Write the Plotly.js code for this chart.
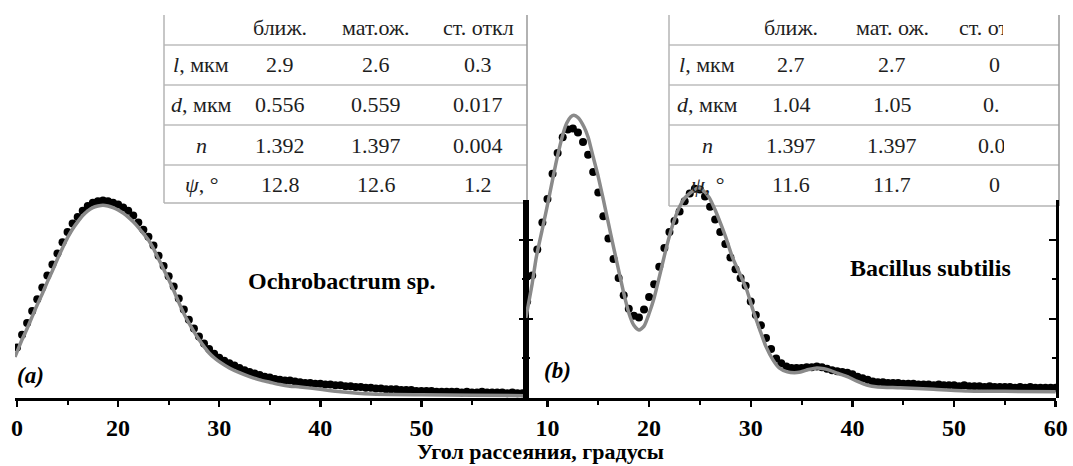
<!DOCTYPE html>
<html><head><meta charset="utf-8">
<script src="https://cdn.plot.ly/plotly-3.0.1.min.js"></script>
<style>html,body{margin:0;padding:0;background:#fff}#chart{width:1073px;height:466px}</style>
</head><body><div id="chart"></div>
<script>
// ---------- Panel (a): Ochrobactrum sp. ----------
const expA_x = [10,10.5,11,11.5,12,12.5,13,13.5,14,14.5,15,15.5,16,16.5,17,17.5,18,18.5,19,19.5,20,20.5,21,21.5,22,22.5,23,23.5,24,24.5,25,25.5,26,26.5,27,27.5,28,28.5,29,29.5,30,30.5,31,31.5,32,32.5,33,33.5,34,34.5,35,35.5,36,36.5,37,37.5,38,38.5,39,39.5,40,40.5,41,41.5,42,42.5,43,43.5,44,44.5,45,45.5,46,46.5,47,47.5,48,48.5,49,49.5,50,50.5,51,51.5,52,52.5,53,53.5,54,54.5,55,55.5,56,56.5,57,57.5,58,58.5,59,59.5,60,60.5];
const expA_y = [0.64,0.80,0.95,1.10,1.25,1.40,1.55,1.69,1.83,1.97,2.10,2.21,2.29,2.37,2.43,2.47,2.49,2.50,2.49,2.47,2.45,2.41,2.37,2.31,2.22,2.13,2.04,1.93,1.80,1.67,1.54,1.41,1.26,1.12,0.99,0.88,0.78,0.69,0.62,0.56,0.51,0.47,0.44,0.41,0.38,0.35,0.33,0.31,0.29,0.27,0.26,0.24,0.23,0.22,0.22,0.21,0.20,0.19,0.19,0.18,0.18,0.17,0.17,0.16,0.16,0.15,0.15,0.14,0.14,0.13,0.13,0.12,0.12,0.11,0.11,0.11,0.10,0.10,0.10,0.09,0.09,0.09,0.09,0.08,0.08,0.08,0.08,0.08,0.07,0.08,0.07,0.07,0.08,0.07,0.07,0.07,0.07,0.06,0.07,0.06,0.06,0.06];
const fitA_x = [9.8,10.5,11,11.5,12,12.5,13,13.5,14,14.5,15,15.5,16,16.5,17,17.5,18,18.5,19,19.5,20,20.5,21,21.5,22,22.5,23,23.5,24,24.5,25,25.5,26,26.5,27,27.5,28,28.5,29,29.5,30,31,32,33,34,35,36,37,38,40,42,45,50,55,60.3];
const fitA_y = [0.52,0.74,0.88,1.03,1.18,1.32,1.47,1.61,1.76,1.90,2.03,2.14,2.23,2.31,2.37,2.41,2.43,2.44,2.43,2.41,2.38,2.34,2.29,2.23,2.16,2.08,2.00,1.89,1.76,1.63,1.50,1.36,1.21,1.07,0.95,0.84,0.74,0.65,0.57,0.51,0.46,0.38,0.32,0.27,0.23,0.20,0.17,0.15,0.14,0.11,0.08,0.05,0.04,0.035,0.03];

// ---------- Panel (b): Bacillus subtilis ----------
const expB_x = [8,8.5,9,9.5,10,10.5,11,11.5,12,12.5,13,13.5,14,14.5,15,15.5,16,16.5,17,17.5,18,18.5,19,19.5,20,20.5,21,21.5,22,22.5,23,23.5,24,24.5,25,25.5,26,26.5,27,27.5,28,28.5,29,29.5,30,30.5,31,31.5,32,32.5,33,33.5,34,34.5,35,35.5,36,36.5,37,37.5,38,38.5,39,39.5,40,40.5,41,41.5,42,42.5,43,43.5,44,44.5,45,45.5,46,46.5,47,47.5,48,48.5,49,49.5,50,50.5,51,51.5,52,52.5,53,53.5,54,54.5,55,55.5,56,56.5,57,57.5,58,58.5,59,59.5,60];
const expB_y = [1.22,1.55,1.88,2.22,2.52,2.84,3.10,3.30,3.40,3.41,3.36,3.24,3.08,2.86,2.60,2.30,2.02,1.76,1.52,1.30,1.13,1.04,1.02,1.12,1.28,1.44,1.66,1.90,2.10,2.24,2.36,2.49,2.59,2.65,2.64,2.55,2.42,2.26,2.10,1.95,1.78,1.63,1.52,1.42,1.22,1.05,0.92,0.76,0.62,0.50,0.44,0.40,0.38,0.38,0.38,0.39,0.39,0.40,0.39,0.37,0.35,0.34,0.33,0.32,0.30,0.27,0.25,0.23,0.21,0.20,0.20,0.19,0.19,0.19,0.18,0.18,0.18,0.17,0.17,0.17,0.16,0.17,0.16,0.16,0.16,0.15,0.16,0.15,0.15,0.15,0.14,0.15,0.14,0.14,0.14,0.14,0.13,0.14,0.13,0.14,0.13,0.13,0.13,0.13,0.13];
const fitB_x = [7.84,8.5,8.9,9.5,9.9,10.5,10.9,11.5,11.9,12.3,12.6,13.0,13.6,14.0,14.5,15.0,15.5,16.0,16.5,17.0,17.5,18.0,18.5,19.0,19.5,20.0,20.5,21.0,21.5,22.0,22.5,23.0,23.5,24.0,24.5,24.9,25.3,25.9,26.5,27.0,27.5,28.2,29.0,29.6,30.2,30.9,31.5,32.2,32.8,33.6,34.3,34.9,35.7,36.5,37.2,37.8,38.6,39.5,40.5,41.5,42.5,44.7,48,51.3,55,60];
const fitB_y = [0.99,1.45,1.78,2.14,2.38,2.76,3.01,3.33,3.48,3.56,3.58,3.55,3.43,3.30,3.05,2.80,2.51,2.21,1.91,1.62,1.33,1.08,0.92,0.86,0.91,1.07,1.27,1.53,1.80,2.05,2.26,2.42,2.53,2.59,2.64,2.66,2.63,2.54,2.38,2.22,2.05,1.78,1.55,1.37,1.12,0.86,0.65,0.48,0.38,0.33,0.32,0.33,0.36,0.38,0.37,0.35,0.31,0.27,0.21,0.16,0.14,0.13,0.11,0.09,0.085,0.08];

// ---------- Axis ticks ----------
const tickValsA = [10,20,30,40,50];
const tickTextA = ["0","20","30","40","50"];
const tickValsB = [10,20,30,40,50,60];
const tickTextB = ["10","20","30","40","50","60"];
const minorTicks = [15,25,35,45,55];

// ---------- Tables ----------
const headA = ["ближ.","мат.ож.","ст. откл"];
const headB = ["ближ.","мат. ож.","ст. откл"];
const rowLabels = ["<i>l</i>, мкм","<i>d</i>, мкм","<i>n</i>","<i>ψ</i>, °"];
const tableA = [["2.9","2.6","0.3"],["0.556","0.559","0.017"],["1.392","1.397","0.004"],["12.8","12.6","1.2"]];
const tableB = [["2.7","2.7","0"],["1.04","1.05","0."],["1.397","1.397","0.0"],["11.6","11.7","0"]];

const labelA = "Ochrobactrum sp.";
const labelB = "Bacillus subtilis";
const xTitle = "Угол рассеяния, градусы";

// pixel -> paper helpers (layout positioning only)
const L = 15, W = 1041, B = 398, H = 398;
const P = px => (px - L) / W;
const Q = py => (B - py) / H;

const serif = '"Liberation Serif", "Times New Roman", "DejaVu Serif", serif';
const dotStyle = {color:'#000', size:8};
const lineStyle = {color:'#8a8a8a', width:3.5, shape:'spline', smoothing:0.6};

const traces = [
  {x:expA_x, y:expA_y, xaxis:'x', yaxis:'y', mode:'markers', marker:dotStyle, hoverinfo:'skip'},
  {x:fitA_x, y:fitA_y, xaxis:'x', yaxis:'y', mode:'lines', line:lineStyle, hoverinfo:'skip'},
  {x:expB_x, y:expB_y, xaxis:'x2', yaxis:'y2', mode:'markers', marker:dotStyle, hoverinfo:'skip'},
  {x:fitB_x, y:fitB_y, xaxis:'x2', yaxis:'y2', mode:'lines', line:lineStyle, hoverinfo:'skip'},
  // empty carriers so the frame axes (right/left borders) get drawn
  {x:[], y:[], xaxis:'x', yaxis:'y3', mode:'markers', hoverinfo:'skip'},
  {x:[], y:[], xaxis:'x2', yaxis:'y4', mode:'markers', hoverinfo:'skip'},
  {x:[], y:[], xaxis:'x2', yaxis:'y5', mode:'markers', hoverinfo:'skip'}
];

const tickFont = {family:serif, size:24, color:'#000', weight:'bold'};
const xCommon = {showline:true, linewidth:3, linecolor:'#000', ticks:'outside', ticklen:6, tickwidth:2.5, tickcolor:'#000',
  tickmode:'array', tickfont:tickFont, showgrid:false, zeroline:false,
  minor:{tickmode:'array', tickvals:minorTicks, ticks:'outside', ticklen:4, tickwidth:2, tickcolor:'#000', showgrid:false}};
const yData = {range:[0, 398/79], visible:false, showgrid:false, zeroline:false};
const ySide = {domain:[0, 0.4975], range:[0, 198/79], showline:true, linewidth:3, linecolor:'#000',
  ticks:'inside', ticklen:7, tickwidth:2.5, tickcolor:'#000', tickmode:'linear', tick0:0, dtick:1,
  showticklabels:false, showgrid:false, zeroline:false,
  minor:{ticks:'inside', ticklen:4, tickwidth:2, tickcolor:'#000', tick0:0, dtick:0.5, showgrid:false}};

const split = P(525.5);

const shapes = [];
const gridColor = '#cdcdcd', borderColor = '#b5b5b5';
function addTable(x0, x1, y0, y1, rows) {
  shapes.push({type:'rect', xref:'paper', yref:'paper', x0:P(x0), x1:P(x1), y0:Q(y1), y1:Q(y0), fillcolor:'#fff', line:{width:0}, layer:'below'});
  rows.forEach(r => shapes.push({type:'line', xref:'paper', yref:'paper', x0:P(x0), x1:P(x1), y0:Q(r), y1:Q(r), line:{color:gridColor, width:2}, layer:'below'}));
  shapes.push({type:'line', xref:'paper', yref:'paper', x0:P(x0), x1:P(x1), y0:Q(y1), y1:Q(y1), line:{color:borderColor, width:1.5}, layer:'below'});
  shapes.push({type:'line', xref:'paper', yref:'paper', x0:P(x0), x1:P(x0), y0:Q(y0), y1:Q(y1), line:{color:borderColor, width:1.5}, layer:'below'});
  shapes.push({type:'line', xref:'paper', yref:'paper', x0:P(x1), x1:P(x1), y0:Q(y0), y1:Q(y1), line:{color:'#999', width:1.5}, layer:'below'});
}
addTable(164, 527, 15, 203, [45, 85, 125, 165]);
addTable(669, 1059, 15, 206, [45, 85, 125, 165]);

const annotations = [];
const tFont = {family:serif, size:22, color:'#1e1e1e'};
function txt(text, px, py, extra) {
  annotations.push(Object.assign({text, xref:'paper', yref:'paper', x:P(px), y:Q(py), xanchor:'center', yanchor:'middle', showarrow:false, font:tFont}, extra||{}));
}
// Table A
const colA = [201, 280, 376, 478], rowY = [64, 104, 145, 185];
headA.forEach((h,i) => txt(h, colA[i+1], 28));
rowLabels.forEach((r,j) => { txt(r, colA[0], rowY[j]); tableA[j].forEach((v,i) => txt(v, colA[i+1], rowY[j])); });
// Table B (third column cut off at the right)
const colB = [707, 791, 892, 994];
txt(headB[0], colB[1], 27); txt(headB[1], colB[2], 27);
txt(headB[2], 957, 27, {xanchor:'left', width:44, align:'left'});
rowLabels.forEach((r,j) => { txt(r, colB[0], rowY[j]); txt(tableB[j][0], colB[1], rowY[j]); txt(tableB[j][1], colB[2], rowY[j]); });
txt(tableB[0][2], 994, rowY[0]);
txt(tableB[1][2], 981, rowY[1], {xanchor:'left'});
txt(tableB[2][2], 976, rowY[2], {xanchor:'left', width:26, align:'left'});
txt(tableB[3][2], 994, rowY[3]);

// Panel labels
const bigBold = {family:serif, size:24, color:'#000', weight:'bold'};
annotations.push({text:labelA, xref:'x', yref:'y', x:42.1, y:1.48, showarrow:false, font:bigBold});
annotations.push({text:labelB, xref:'x2', yref:'y2', x:47.7, y:1.65, showarrow:false, font:bigBold});
annotations.push({text:'(a)', xref:'x', yref:'y', x:9.8, y:0.28, xanchor:'left', showarrow:false, font:{family:serif, size:23, color:'#000', weight:'bold', style:'italic'}});
annotations.push({text:'(b)', xref:'x2', yref:'y2', x:9.45, y:0.35, xanchor:'left', showarrow:false, font:{family:serif, size:23, color:'#000', weight:'bold', style:'italic'}});
annotations.push({text:xTitle, xref:'paper', yref:'paper', x:P(540), y:Q(451), xanchor:'center', yanchor:'middle', showarrow:false, font:{family:serif, size:22, color:'#000', weight:'bold'}});

const layout = {
  width:1073, height:466, margin:{l:L, r:1073-1056, t:0, b:466-B},
  paper_bgcolor:'#fff', plot_bgcolor:'rgba(0,0,0,0)', showlegend:false,
  xaxis: Object.assign({}, xCommon, {domain:[0, split], range:[9.8, 60.3], anchor:'y', tickvals:tickValsA, ticktext:tickTextA}),
  xaxis2: Object.assign({}, xCommon, {domain:[split, 1], range:[7.84, 60.03], anchor:'y2', tickvals:tickValsB, ticktext:tickTextB}),
  yaxis: Object.assign({}, yData, {anchor:'x'}),
  yaxis2: Object.assign({}, yData, {anchor:'x2'}),
  yaxis3: Object.assign({}, ySide, {anchor:'x', side:'right'}),
  yaxis4: Object.assign({}, ySide, {anchor:'x2', side:'left'}),
  yaxis5: Object.assign({}, ySide, {anchor:'x2', side:'right'}),
  shapes, annotations
};
Plotly.newPlot('chart', traces, layout, {staticPlot:true, displayModeBar:false});
</script></body></html>
